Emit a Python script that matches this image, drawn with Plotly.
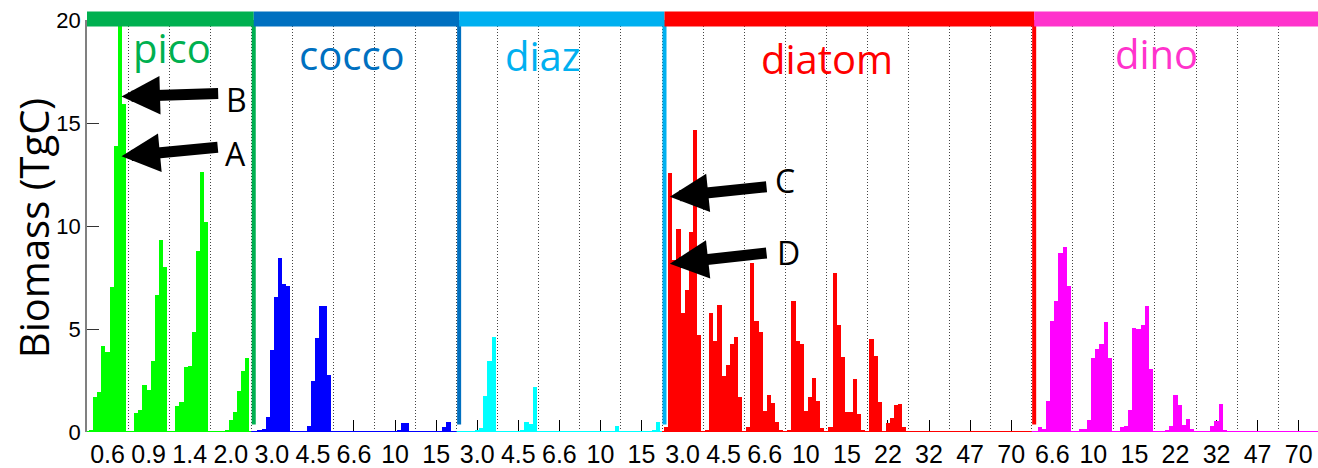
import plotly.graph_objects as go

# ---------------- data ----------------
groups = ["pico", "cocco", "diaz", "diatom", "dino"]

pico_sizes = ["0.6", "0.9", "1.4", "2.0"]
cocco_sizes = ["3.0", "4.5", "6.6", "10", "15"]
diaz_sizes = ["3.0", "4.5", "6.6", "10", "15"]
diatom_sizes = ["3.0", "4.5", "6.6", "10", "15", "22", "32", "47", "70"]
dino_sizes = ["6.6", "10", "15", "22", "32", "47", "70"]

# biomass (TgC), 9 bars per size class
pico_biomass = [
    [0.1, 1.70, 1.94, 4.19, 3.88, 7.02, 13.9, 21.0, 15.9],
    [0, 0.92, 1.05, 2.30, 2.06, 3.45, 6.67, 9.32, 7.99],
    [0, 1.28, 1.44, 3.15, 3.19, 4.87, 8.80, 12.6, 10.18],
    [0, 0, 0.03, 0.11, 0.60, 0.99, 2.00, 2.94, 3.59],
]
cocco_biomass = [
    [0, 0.06, 0.16, 0.71, 4.00, 6.54, 8.45, 7.18, 7.07],
    [0, 0, 0.03, 0.28, 2.50, 4.56, 6.10, 6.10, 2.75],
    [0, 0, 0, 0, 0, 0, 0, 0, 0],
    [0, 0, 0, 0, 0, 0.05, 0.44, 0.44, 0],
    [0, 0, 0, 0, 0, 0, 0.23, 0.49, 0],
]
diaz_biomass = [
    [0, 0, 0, 0, 0.06, 0.19, 1.73, 3.46, 4.61],
    [0, 0, 0, 0, 0, 0.11, 0.47, 0.40, 2.17],
    [0, 0, 0, 0, 0, 0, 0, 0, 0],
    [0, 0, 0, 0, 0, 0, 0, 0, 0.28],
    [0, 0, 0, 0, 0, 0, 0, 0.11, 0.47],
]
diatom_biomass = [
    [0.24, 12.57, 8.36, 9.87, 5.78, 6.91, 9.71, 14.64, 4.72],
    [0.10, 5.80, 4.40, 6.18, 2.70, 3.25, 4.27, 4.60, 1.70],
    [0.24, 8.20, 5.40, 4.86, 1.04, 1.81, 1.41, 0.49, 0.08],
    [0.06, 6.37, 4.43, 4.27, 1.00, 1.68, 2.62, 1.49, 0.19],
    [0.24, 7.72, 5.21, 3.64, 0.95, 0.98, 2.57, 0.89, 0.05],
    [4.51, 3.67, 1.44, 0, 0.44, 0.68, 1.33, 1.38, 0.26],
    [0, 0, 0, 0, 0, 0, 0, 0, 0],
    [0, 0, 0, 0, 0, 0, 0, 0, 0],
    [0, 0, 0, 0, 0, 0, 0, 0, 0],
]
dino_biomass = [
    [0, 0.24, 0.16, 1.49, 5.37, 6.38, 8.69, 8.98, 7.07],
    [0, 0.16, 0.16, 0.60, 3.59, 4.05, 4.29, 5.32, 3.59],
    [0, 0.23, 0.31, 1.08, 5.05, 5.00, 5.21, 6.10, 3.06],
    [0, 0, 0.11, 0.27, 1.81, 1.33, 0.36, 0.65, 0.16],
    [0, 0, 0, 0.27, 0.55, 1.38, 0.11, 0, 0],
    [0, 0, 0, 0, 0, 0, 0, 0, 0],
    [0, 0, 0, 0, 0, 0, 0, 0, 0],
]

group_sizes = [pico_sizes, cocco_sizes, diaz_sizes, diatom_sizes, dino_sizes]
group_biomass = [pico_biomass, cocco_biomass, diaz_biomass, diatom_biomass, dino_biomass]

# ---------------- style ----------------
bar_colors = ["#00FF00", "#0000FF", "#00FFFF", "#FF0000", "#FF00FF"]
head_colors = ["#00B050", "#0070C0", "#00B0F0", "#FF0000", "#FF33CC"]
label_x = [20.8, 64.4, 110.9, 180.1, 260.4]          # slot units
label_y = [0.933, 0.916, 0.914, 0.906, 0.919]        # paper units

arrow_tips = [(8.4, 13.38), (8.4, 16.29), (141.9, 11.42), (141.9, 8.17)]
arrow_tails = [(32.2, 13.83), (32.3, 16.43), (165.8, 11.91), (165.8, 8.70)]
arrow_letters = ["A", "B", "C", "D"]
letter_pos = [(36.2, 13.51), (36.4, 16.15), (169.9, 12.2), (170.7, 8.73)]

SLOTS = 10          # 9 bars + 1 spacer per size class
SEP_OFF = 0.6

fig = go.Figure()
shapes = []
annotations = []
tickvals, ticktext = [], []
k = 0
for gi, (name, sizes, vals) in enumerate(zip(groups, group_sizes, group_biomass)):
    g_start = k * SLOTS
    xs, ys = [], []
    for s, row in zip(sizes, vals):
        for j, v in enumerate(row):
            xs.append(k * SLOTS + j + 1)
            ys.append(v)
        tickvals.append(k * SLOTS + SLOTS / 2)
        ticktext.append(s)
        k += 1
    g_end = k * SLOTS
    fig.add_trace(go.Bar(x=xs, y=ys, width=1, marker=dict(color=bar_colors[gi], line=dict(width=0)),
                         showlegend=False, hoverinfo="x+y"))
    # zero baseline
    shapes.append(dict(type="line", xref="x", yref="y", x0=g_start, x1=g_end, y0=0, y1=0,
                       line=dict(color=bar_colors[gi], width=2), layer="above"))
    # header bar
    shapes.append(dict(type="rect", xref="x", yref="paper",
                       x0=(g_start + SEP_OFF) if gi > 0 else -1, x1=g_end + SEP_OFF,
                       y0=0.9845, y1=1.0209, fillcolor=head_colors[gi], line=dict(width=0), layer="above"))
    # right separator
    if gi < len(groups) - 1:
        shapes.append(dict(type="line", xref="x", yref="paper", x0=g_end + SEP_OFF, x1=g_end + SEP_OFF,
                           y0=0.018, y1=1.0, line=dict(color=head_colors[gi], width=4), layer="above"))
    annotations.append(dict(x=label_x[gi], y=label_y[gi], xref="x", yref="paper", text=name,
                            showarrow=False, xanchor="center", yanchor="middle",
                            font=dict(family="Open Sans", size=40, color=head_colors[gi])))

grid_vals = [c * SLOTS for c in range(1, k)]

for (tx, ty), (ax_, ay_) in zip(arrow_tips, arrow_tails):
    annotations.append(dict(x=tx, y=ty, xref="x", yref="y", ax=ax_, ay=ay_, axref="x", ayref="y",
                            text="", showarrow=True, arrowhead=2, arrowwidth=11, arrowsize=0.7,
                            arrowcolor="black", standoff=0))
for letter, (lx, ly) in zip(arrow_letters, letter_pos):
    annotations.append(dict(x=lx, y=ly, xref="x", yref="y", text=letter, showarrow=False,
                            xanchor="center", yanchor="middle",
                            font=dict(family="Open Sans", size=32, color="black")))

annotations.append(dict(x=-0.0439, y=0.4947, xref="paper", yref="paper", text="Biomass (TgC)",
                        textangle=-90, showarrow=False, xanchor="center", yanchor="middle",
                        font=dict(family="Open Sans", size=40, color="black")))

fig.update_layout(
    width=1318, height=468,
    margin=dict(l=87, r=0, t=20, b=36, autoexpand=False),
    paper_bgcolor="white", plot_bgcolor="white",
    barmode="overlay", bargap=0,
    shapes=shapes, annotations=annotations,
    xaxis=dict(range=[0, 299.7], tickmode="array", tickvals=tickvals, ticktext=ticktext,
               ticks="inside", ticklen=12, tickwidth=1, tickcolor="black", automargin=False,
               ticklabelstandoff=5,
               showline=False, showgrid=False, zeroline=False, layer="below traces",
               tickfont=dict(family="Liberation Sans", size=25, color="black"),
               minor=dict(tickmode="array", tickvals=grid_vals, showgrid=True, gridcolor="#444",
                          gridwidth=1, griddash="1px,2px", ticks="")),
    yaxis=dict(range=[0, 20], tickmode="array", tickvals=[0, 5, 10, 15, 20], automargin=False,
               ticks="inside", ticklen=12, tickwidth=1, tickcolor="#333",
               showline=True, linecolor="#808080", linewidth=1.5,
               showgrid=False, zeroline=False, layer="below traces",
               tickfont=dict(family="Liberation Sans", size=22, color="black")),
)

fig.write_html("out.html", config={"displayModeBar": False},
               post_script="document.body.style.margin='0px';document.body.style.overflow='hidden';")
